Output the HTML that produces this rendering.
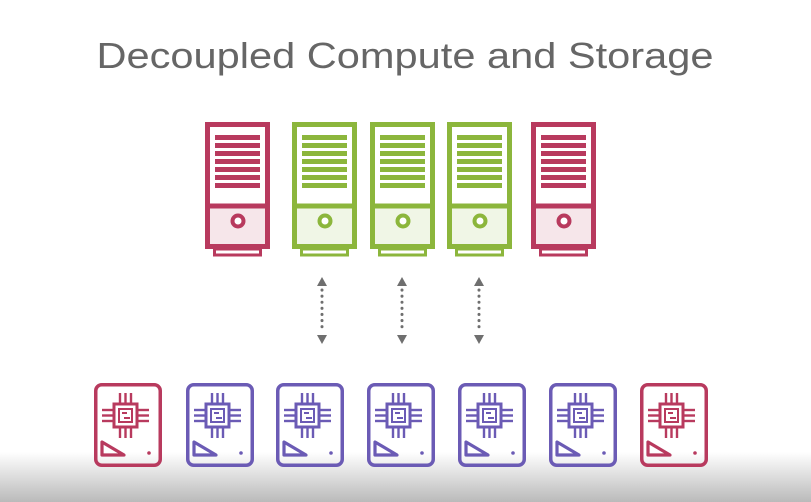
<!DOCTYPE html>
<html><head><meta charset="utf-8"><style>
html,body{margin:0;padding:0;width:811px;height:502px;overflow:hidden;background:#fff}
</style></head><body>
<svg width="811" height="502" viewBox="0 0 811 502" xmlns="http://www.w3.org/2000/svg">
<defs>
<linearGradient id="bg" x1="0" y1="0" x2="0" y2="1">
<stop offset="0" stop-color="#ffffff"/><stop offset="1" stop-color="#bababa"/>
</linearGradient>
<g id="srv">
<rect x="2.5" y="2.5" width="60" height="122" fill="#fff" stroke="currentColor" stroke-width="5"/>
<rect x="5" y="85" width="55" height="37" fill="currentColor" fill-opacity="0.13"/>
<line x1="2.5" y1="84" x2="62.5" y2="84" stroke="currentColor" stroke-width="5"/>
<g fill="currentColor">
<rect x="10" y="13" width="45" height="5"/><rect x="10" y="21" width="45" height="5"/>
<rect x="10" y="29" width="45" height="5"/><rect x="10" y="37" width="45" height="5"/>
<rect x="10" y="45" width="45" height="5"/><rect x="10" y="53" width="45" height="5"/>
<rect x="10" y="61" width="45" height="5"/>
</g>
<circle cx="33" cy="99" r="5.5" fill="#fff" stroke="currentColor" stroke-width="4"/>
<rect x="9.5" y="127" width="46" height="6" fill="#fff" stroke="currentColor" stroke-width="3"/>
</g>
<g id="drv" fill="none" stroke="currentColor">
<rect x="1.75" y="1.75" width="64.5" height="80.5" rx="6" stroke-width="3.5"/>
<rect x="20" y="21" width="23" height="23" stroke-width="3"/>
<rect x="25" y="26" width="13" height="13" stroke-width="2"/>
<line x1="28" y1="30" x2="33" y2="30" stroke-width="2"/>
<line x1="30" y1="35" x2="36" y2="35" stroke-width="2"/>
<g stroke-width="2.4">
<line x1="26" y1="10" x2="26" y2="21"/><line x1="31.5" y1="10" x2="31.5" y2="21"/><line x1="37" y1="10" x2="37" y2="21"/>
<line x1="26" y1="44" x2="26" y2="55"/><line x1="31.5" y1="44" x2="31.5" y2="55"/><line x1="37" y1="44" x2="37" y2="55"/>
<line x1="8" y1="27" x2="20" y2="27"/><line x1="8" y1="32.5" x2="20" y2="32.5"/><line x1="8" y1="38" x2="20" y2="38"/>
<line x1="43" y1="27" x2="55" y2="27"/><line x1="43" y1="32.5" x2="55" y2="32.5"/><line x1="43" y1="38" x2="55" y2="38"/>
</g>
<path d="M8 59 L8 72 L30 72 Z" stroke-width="3.2" stroke-linejoin="round"/>
<circle cx="55" cy="70" r="1.8" fill="currentColor" stroke="none"/>
</g>
<g id="arr" fill="#6f6f6f">
<path d="M0 0 L-5 9 L5 9 Z"/>
<path d="M0 67 L-5 58 L5 58 Z"/>
<line x1="0" y1="13" x2="0" y2="55" stroke="#6f6f6f" stroke-width="3" stroke-dasharray="0.1 6" stroke-linecap="round"/>
</g>
</defs>
<rect x="0" y="452" width="811" height="50" fill="url(#bg)"/>
<text x="405" y="68" text-anchor="middle" font-family="Liberation Sans, sans-serif" font-size="36" fill="#666" textLength="617" lengthAdjust="spacingAndGlyphs">Decoupled Compute and Storage</text>
<use href="#srv" x="205" y="122" color="#b83a5e"/>
<use href="#srv" x="292" y="122" color="#8cb63c"/>
<use href="#srv" x="370" y="122" color="#8cb63c"/>
<use href="#srv" x="447" y="122" color="#8cb63c"/>
<use href="#srv" x="531" y="122" color="#b83a5e"/>
<use href="#arr" x="322" y="277"/>
<use href="#arr" x="402" y="277"/>
<use href="#arr" x="479" y="277"/>
<use href="#drv" x="94" y="383" color="#b83a5e"/>
<use href="#drv" x="186" y="383" color="#6b5bb5"/>
<use href="#drv" x="276" y="383" color="#6b5bb5"/>
<use href="#drv" x="367" y="383" color="#6b5bb5"/>
<use href="#drv" x="458" y="383" color="#6b5bb5"/>
<use href="#drv" x="549" y="383" color="#6b5bb5"/>
<use href="#drv" x="640" y="383" color="#b83a5e"/>
</svg>
</body></html>
